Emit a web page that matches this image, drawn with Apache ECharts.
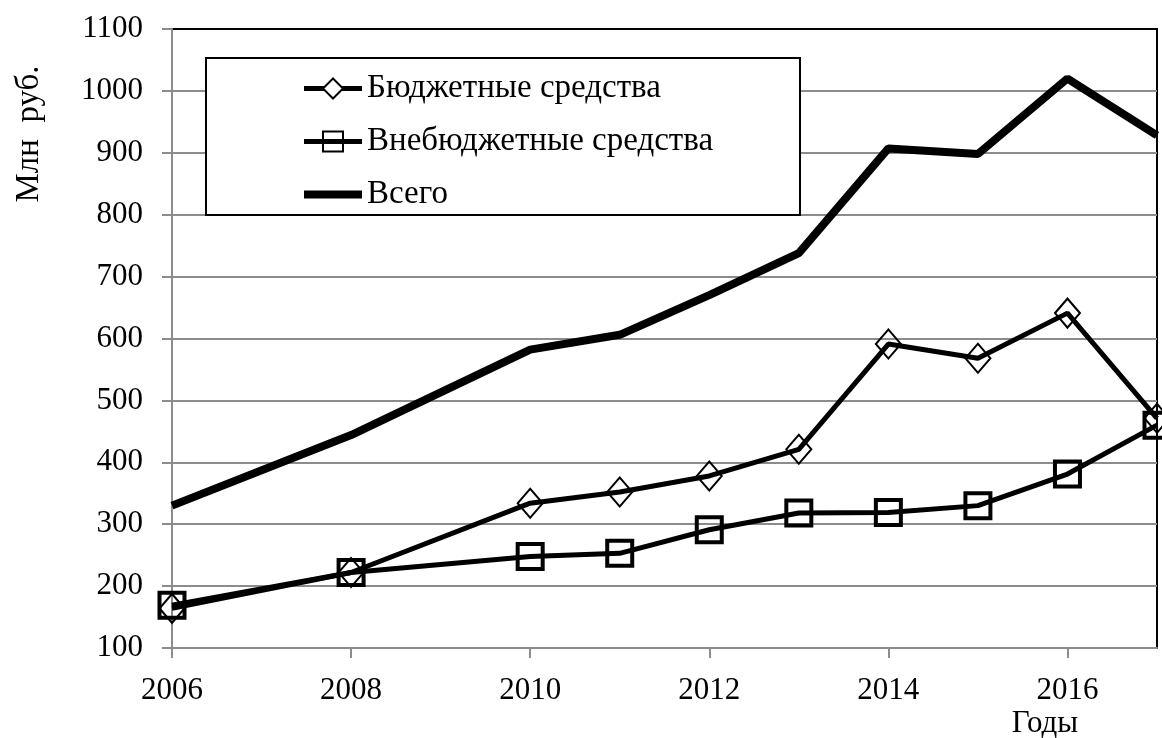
<!DOCTYPE html>
<html>
<head>
<meta charset="utf-8">
<script src="https://cdn.jsdelivr.net/npm/echarts@6/dist/echarts.min.js"></script>
<style>html,body{margin:0;padding:0;background:#fff;}#c{width:1162px;height:738px;}</style>
</head>
<body>
<div id="c"></div>
<script>
const years = [2006, 2008, 2010, 2011, 2012, 2013, 2014, 2015, 2016, 2017];
const budget = [164, 222, 334, 352, 378, 421, 591, 568, 641, 471];
const extraBudget = [169, 222, 248, 253, 291, 318, 319, 330, 381, 460];
const total = [330, 444, 582, 606, 670, 738, 907, 898, 1020, 928];
const seriesNames = ['Бюджетные средства', 'Внебюджетные средства', 'Всего'];
const yTicks = [100, 200, 300, 400, 500, 600, 700, 800, 900, 1000, 1100];
const xTickLabels = [2006, 2008, 2010, 2012, 2014, 2016];

const font = 'Liberation Serif';
const pairs = arr => years.map((y, i) => [y, arr[i]]);
const gridColors = yTicks.map((v, i) => i === yTicks.length - 1 ? '#000' : '#8c8c8c');

const chart = echarts.init(document.getElementById('c'), null, {renderer: 'canvas'});
chart.setOption({
  animation: false,
  backgroundColor: '#fff',
  textStyle: {fontFamily: font},
  grid: {left: 172, right: 5, top: 29, bottom: 90, show: true, borderColor: '#000', borderWidth: 2, backgroundColor: 'transparent'},
  xAxis: {
    type: 'value', min: 2006, max: 2017, interval: 2,
    axisLine: {lineStyle: {color: '#8c8c8c', width: 2}},
    axisTick: {show: true, length: 10, lineStyle: {color: '#8c8c8c', width: 2}, inside: false},
    splitLine: {show: false},
    axisLabel: {
      fontFamily: font, fontSize: 31, color: '#000', margin: 27, showMaxLabel: false,
      formatter: v => xTickLabels.indexOf(v) >= 0 ? String(v) : ''
    }
  },
  yAxis: {
    type: 'value', min: yTicks[0], max: yTicks[yTicks.length - 1], interval: 100,
    axisLine: {show: true, lineStyle: {color: '#8c8c8c', width: 2}},
    axisTick: {show: true, length: 10, lineStyle: {color: '#8c8c8c', width: 2}},
    splitLine: {show: true, lineStyle: {color: gridColors, width: 2}},
    axisLabel: {fontFamily: font, fontSize: 31, color: '#000', margin: 29, formatter: v => String(v)}
  },
  legend: {
    orient: 'vertical', left: 295, top: 67,
    itemWidth: 58, itemHeight: 25, itemGap: 20,
    padding: 5,
    textStyle: {fontFamily: font, fontSize: 33, color: '#000', lineHeight: 33},
    data: [
      {name: seriesNames[0], lineStyle: {width: 5}, itemStyle: {color: '#fff', borderColor: '#000', borderWidth: 2}},
      {name: seriesNames[1], lineStyle: {width: 5}, itemStyle: {color: 'rgba(255,255,255,0)', borderColor: '#000', borderWidth: 2}},
      {name: seriesNames[2], lineStyle: {width: 8}, itemStyle: {color: 'rgba(255,255,255,0)', borderColor: 'rgba(255,255,255,0)', borderWidth: 0}}
    ],
    z: 10
  },
  graphic: [
    {type: 'rect', z: 5, shape: {x: 206, y: 58, width: 594, height: 157}, style: {fill: '#fff', stroke: '#000', lineWidth: 2}},
    {type: 'text', z: 5, x: 29, y: 134, rotation: Math.PI / 2, style: {text: 'Млн  руб.', font: '33px "Liberation Serif"', fill: '#000', align: 'center', verticalAlign: 'middle'}},
    {type: 'text', z: 5, x: 1045, y: 724, style: {text: 'Годы', font: '31px "Liberation Serif"', fill: '#000', align: 'center', verticalAlign: 'middle'}}
  ],
  series: [
    {
      name: seriesNames[0], type: 'line', data: pairs(budget),
      symbol: 'diamond', symbolSize: [25, 29],
      lineStyle: {color: '#000', width: 5},
      itemStyle: {color: 'rgba(255,255,255,0)', borderColor: '#000', borderWidth: 2},
      z: 2
    },
    {
      name: seriesNames[1], type: 'line', data: pairs(extraBudget),
      symbol: 'rect', symbolSize: 25,
      lineStyle: {color: '#000', width: 5},
      itemStyle: {color: 'rgba(255,255,255,0)', borderColor: '#000', borderWidth: 4},
      z: 3
    },
    {
      name: seriesNames[2], type: 'line', data: pairs(total),
      symbol: 'none',
      lineStyle: {color: '#000', width: 8},
      itemStyle: {color: '#000'},
      z: 4
    }
  ]
});
</script>
</body>
</html>
